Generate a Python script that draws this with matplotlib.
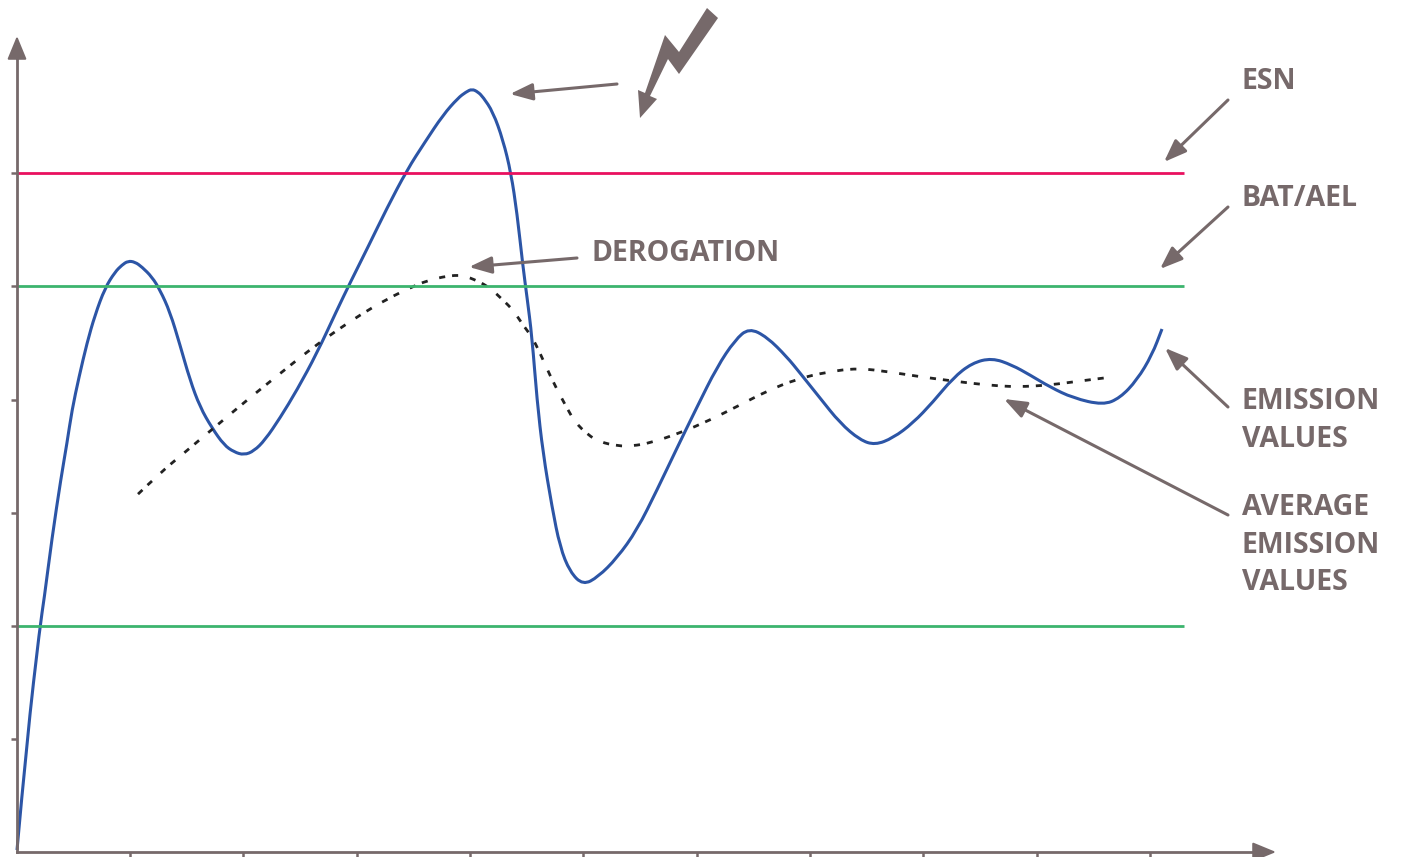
import matplotlib
matplotlib.use("Agg")
import matplotlib.pyplot as plt
from matplotlib.path import Path
from matplotlib.patches import PathPatch

# chart units: 1 unit = 1 px, origin at the corner of the axes
emission_x = [0, 10, 23, 27, 35, 44, 50, 55, 62, 70, 78, 88, 98, 105, 111, 118, 125, 135, 143, 153, 163, 173,
              183, 195, 207, 217, 227, 237, 248, 263, 280, 300, 320, 333, 351, 370, 390, 408, 426, 441,
              449, 455, 461, 466, 476, 486, 494, 500, 506, 510, 515, 520, 526, 535, 543, 553, 566, 581, 600, 620,
              640, 660, 680, 700, 718, 732, 750, 770, 783, 803, 823, 843, 858, 876, 896, 916, 936, 955,
              975, 995, 1013, 1033, 1056, 1086, 1103, 1120, 1135, 1145]
emission_y = [2, 113, 226, 252, 314, 374, 409, 442, 475, 509, 537, 564, 580, 587, 591, 590, 585, 575, 562, 540, 507, 472,
              445, 424, 407, 400, 397, 401, 412, 434, 462, 499, 542, 569, 605, 644, 682, 710, 737, 754,
              760, 763, 760, 755, 740, 712, 679, 639, 585, 555, 515, 452, 399, 345, 305, 280, 267, 275, 294, 322,
              362, 404, 445, 485, 512, 524, 515, 495, 479, 454, 429, 412, 407, 414, 429, 450, 474, 489,
              494, 487, 477, 465, 454, 447, 454, 472, 497, 523]

average_x = [118, 143, 167, 192, 217, 240, 265, 290, 316, 343, 370, 399, 413, 430, 445, 461, 473, 486, 496, 506,
             515, 523, 536, 551, 558, 571, 583, 601, 615, 633, 663, 693, 721, 750, 780, 810, 841, 873, 905, 936,
             969, 1000, 1033, 1063, 1095]
average_y = [355, 379, 399, 420, 441, 460, 480, 500, 519, 537, 553, 567, 572, 576, 577, 571, 564, 552, 542, 527,
             515, 499, 470, 442, 430, 417, 410, 406, 406, 409, 419, 432, 446, 461, 473, 480, 484, 480, 475, 471,
             467, 465, 467, 471, 475]

esn_level = 679
bat_upper = 566
bat_lower = 226
line_end = 1167

x_ticks = [113, 226, 340, 453, 566, 680, 793, 906, 1020, 1133]
y_ticks = [113, 226, 339, 452, 566, 679]

bolt_x = [690, 701, 662, 651, 633, 640, 623, 621, 628, 648, 662]
bolt_y = [844, 834, 778, 793, 756, 753, 734, 762, 759, 817, 800]

labels = [("ESN", 1225, 763), ("BAT/AEL", 1225, 646), ("DEROGATION", 575, 591),
          ("EMISSION", 1225, 443), ("VALUES", 1225, 405),
          ("AVERAGE", 1225, 337), ("EMISSION", 1225, 299), ("VALUES", 1225, 262)]

# tail x, tail y, tip x, tip y
arrows = [(1211, 752, 1147, 690), (1211, 645, 1143, 583), (1211, 445, 1148, 504),
          (1211, 337, 987, 453), (560, 594, 452, 585), (600, 768, 493, 758)]

brown = "#76696a"


def smooth(xs, ys):
    # quadratic pieces through the midpoints so the read-off points don't show as corners
    pts = list(zip(xs, ys))
    verts = [pts[0]]
    codes = [Path.MOVETO]
    for a, b in zip(pts[1:-1], pts[2:]):
        verts += [a, ((a[0] + b[0]) / 2, (a[1] + b[1]) / 2)]
        codes += [Path.CURVE3, Path.CURVE3]
    verts.append(pts[-1])
    codes.append(Path.LINETO)
    return Path(verts, codes)


fig = plt.figure(figsize=(14.08, 8.57), dpi=100)
ax = fig.add_axes([0, 0, 1, 1])
ax.set_xlim(-17, 1391)
ax.set_ylim(-5, 852)

ax.hlines(esn_level, 0, line_end, color="#e9105f", lw=2.0)
ax.hlines([bat_upper, bat_lower], 0, line_end, color="#3cb46e", lw=2.0)
ax.add_patch(PathPatch(smooth(emission_x, emission_y), fill=False, edgecolor="#2c55a6", lw=2.2))
# dashes come in pairs in the original
ax.add_patch(PathPatch(smooth(average_x, average_y), fill=False, edgecolor="#222222", lw=2.0,
                       linestyle=(9.7, (2.2, 2.5, 2.2, 4.3))))

ax.fill(bolt_x, bolt_y, color=brown, lw=0)

for s in ["top", "right"]:
    ax.spines[s].set_visible(False)
for s in ["left", "bottom"]:
    ax.spines[s].set_position(("data", 0))
    ax.spines[s].set_color(brown)
    ax.spines[s].set_linewidth(2.0)
ax.spines["left"].set_bounds(0, 800)
ax.spines["bottom"].set_bounds(0, 1245)
ax.set_xticks(x_ticks)
ax.set_yticks(y_ticks)
ax.tick_params(axis="both", labelbottom=False, labelleft=False, length=4.5, width=1.8, color=brown)
ax.patch.set_visible(False)

head = "-|>,head_length=0.85,head_width=0.32"
ax.annotate("", xy=(0, 816), xytext=(0, 793),
            arrowprops=dict(arrowstyle="-|>,head_length=0.8,head_width=0.33", color=brown, lw=1.5,
                            shrinkA=0, shrinkB=0, mutation_scale=18))
ax.annotate("", xy=(1259, 0), xytext=(1238, 0),
            arrowprops=dict(arrowstyle="-|>,head_length=0.8,head_width=0.33", color=brown, lw=1.5,
                            shrinkA=0, shrinkB=0, mutation_scale=18))

for x0, y0, x1, y1 in arrows:
    ax.annotate("", xy=(x1, y1), xytext=(x0, y0),
                arrowprops=dict(arrowstyle=head, color=brown, lw=2.2, shrinkA=0, shrinkB=0,
                                mutation_scale=16))

for txt, x, y in labels:
    ax.text(x, y, txt, color=brown, fontsize=20.5, fontweight="bold", family="Open Sans", va="baseline", ha="left")

fig.savefig("out.png", dpi=100)
